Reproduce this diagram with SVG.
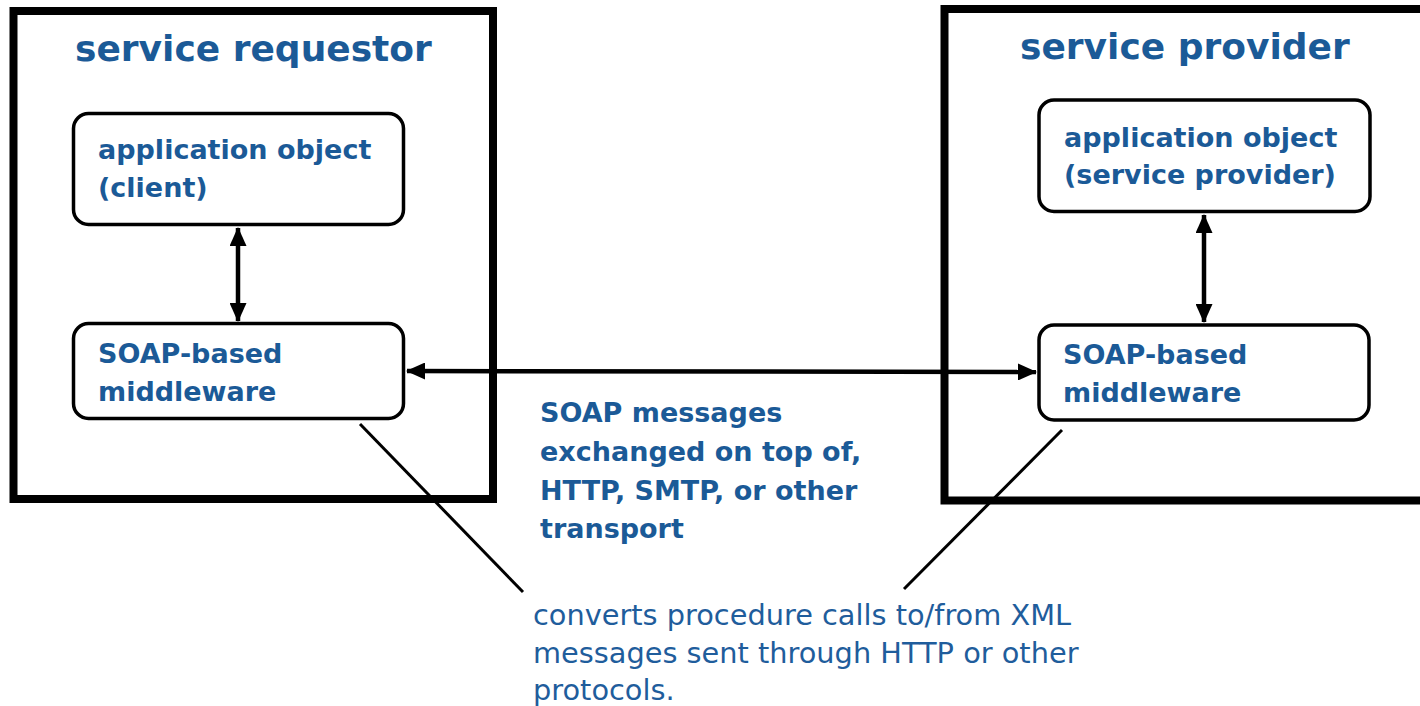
<svg xmlns="http://www.w3.org/2000/svg" width="1420" height="706" viewBox="0 0 1420 706">
  <style>
    .frame { fill: none; stroke: #000; stroke-width: 8; }
    .box { fill: #fff; stroke: #000; stroke-width: 3.5; }
    .title { font-family: "DejaVu Sans", sans-serif; font-weight: bold; font-size: 36px; fill: #1b5a97; }
    .lbl { font-family: "DejaVu Sans", sans-serif; font-weight: bold; font-size: 27px; fill: #1b5a97; }
    .note { font-family: "DejaVu Sans", sans-serif; font-size: 28.8px; fill: #1f5d9c; }
    .link { stroke: #000; stroke-width: 4.5; fill: none; }
    .lead { stroke: #000; stroke-width: 3; fill: none; }
  </style>
  <defs>
    <!-- filled triangular arrowhead shared by all two-way links -->
    <marker id="head" viewBox="0 0 19 17" refX="18" refY="8.5" markerWidth="19" markerHeight="17" markerUnits="userSpaceOnUse" orient="auto-start-reverse">
      <path d="M0,0 L19,8.5 L0,17 Z" fill="#000"/>
    </marker>
  </defs>
  <rect width="1420" height="706" fill="#fff"/>

  <g id="requestor">
    <rect class="frame" x="13.5" y="11" width="479.5" height="488"/>
    <text class="title" x="75" y="61">service requestor</text>
  </g>

  <g id="provider">
    <rect class="frame" x="944.5" y="9" width="490" height="491.5"/>
    <text class="title" x="1020" y="59">service provider</text>
  </g>

  <g id="client-app">
    <rect class="box" x="73.5" y="113.5" width="330" height="111" rx="15"/>
    <text class="lbl" x="98" y="159">application object</text>
    <text class="lbl" x="98" y="197">(client)</text>
  </g>

  <g id="client-middleware">
    <rect class="box" x="73.5" y="323.5" width="330" height="95" rx="15"/>
    <text class="lbl" x="98" y="363">SOAP-based</text>
    <text class="lbl" x="98" y="401">middleware</text>
  </g>

  <g id="provider-app">
    <rect class="box" x="1039" y="100" width="331" height="111.5" rx="15"/>
    <text class="lbl" x="1064" y="147">application object</text>
    <text class="lbl" x="1064" y="184">(service provider)</text>
  </g>

  <g id="provider-middleware">
    <rect class="box" x="1039" y="325" width="330" height="95" rx="15"/>
    <text class="lbl" x="1063" y="364">SOAP-based</text>
    <text class="lbl" x="1063" y="402">middleware</text>
  </g>

  <g id="transport-note">
    <text class="lbl" x="540" y="422">SOAP messages</text>
    <text class="lbl" x="540" y="461">exchanged on top of,</text>
    <text class="lbl" x="540" y="500">HTTP, SMTP, or other</text>
    <text class="lbl" x="540" y="538">transport</text>
  </g>

  <g id="middleware-note">
    <text class="note" x="533" y="625">converts procedure calls to/from XML</text>
    <text class="note" x="533" y="663">messages sent through HTTP or other</text>
    <text class="note" x="533" y="700">protocols.</text>
  </g>

  <g id="connectors">
    <line class="link" x1="238" y1="228" x2="238" y2="321" marker-start="url(#head)" marker-end="url(#head)"/>
    <line class="link" x1="1204" y1="215" x2="1204" y2="322" marker-start="url(#head)" marker-end="url(#head)"/>
    <line class="link" x1="407" y1="371" x2="1036" y2="372" marker-start="url(#head)" marker-end="url(#head)"/>
    <line class="lead" x1="360" y1="424" x2="523" y2="592"/>
    <line class="lead" x1="1062" y1="430" x2="904" y2="589"/>
  </g>
</svg>
